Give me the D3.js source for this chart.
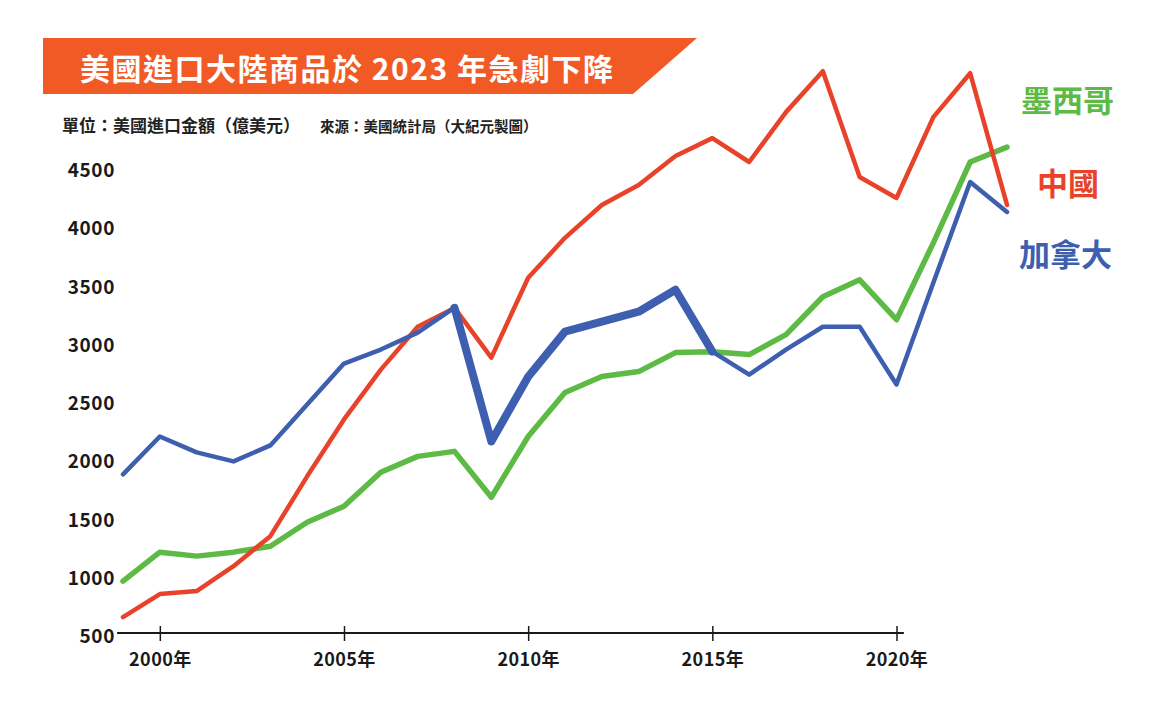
<!DOCTYPE html>
<html>
<head>
<meta charset="utf-8">
<script src="https://cdn.jsdelivr.net/npm/d3@7"></script>
<style>
  body { margin: 0; background: #fff; }
  svg { display: block; }
  text { font-family: "Noto Sans CJK TC", "Noto Sans", sans-serif; }
  .num { font-family: "Open Sans", "Noto Sans CJK TC", sans-serif; }
</style>
</head>
<body>
<svg width="1173" height="718"></svg>
<script>
// data (億美元)
var years = [1999, 2000, 2001, 2002, 2003, 2004, 2005, 2006, 2007, 2008, 2009, 2010, 2011,
  2012, 2013, 2014, 2015, 2016, 2017, 2018, 2019, 2020, 2021, 2022, 2023];
var china = [637, 834, 860, 1074, 1331, 1845, 2333, 2761, 3129, 3290, 2864, 3549, 3892,
  4174, 4346, 4594, 4748, 4543, 4971, 5322, 4414, 4234, 4928, 5305, 4174];
var mexico = [945, 1194, 1160, 1194, 1245, 1451, 1588, 1879, 2016, 2059, 1665, 2187, 2564,
  2701, 2744, 2907, 2915, 2890, 3061, 3386, 3532, 3189, 3849, 4543, 4671];
var canada = [1862, 2187, 2050, 1973, 2110, 2461, 2813, 2933, 3078, 3292, 2144, 2700, 3087,
  3172, 3258, 3446, 2915, 2718, 2932, 3129, 3129, 2633, 3506, 4371, 4114];
var yTicks = [500, 1000, 1500, 2000, 2500, 3000, 3500, 4000, 4500];
var xTicks = [2000, 2005, 2010, 2015, 2020];
var boldFrom = 2008, boldTo = 2015; // canada line is drawn thicker here

var title = "美國進口大陸商品於 2023 年急劇下降";
var unitText = "單位：美國進口金額（億美元）";
var sourceText = "來源：美國統計局（大紀元製圖）";

var colors = { china: "#e8432a", mexico: "#5dba45", canada: "#3e5fb0" };

var svg = d3.select("svg");

// scales
var x = d3.scaleLinear().domain([1999, 2023]).range([123, 1007]);
var y = d3.scaleLinear().domain([500, 4500]).range([633, 167]);

// title banner
svg.append("path")
  .attr("d", "M43,38 L697,38 L633,94 L43,94 Z")
  .attr("fill", "#f15a24");
svg.append("text")
  .attr("x", 80).attr("y", 80)
  .attr("fill", "#fff")
  .attr("font-size", 30)
  .attr("font-weight", 700)
  .attr("letter-spacing", 1.5)
  .text(title);

svg.append("text")
  .attr("x", 62).attr("y", 132)
  .attr("font-size", 17).attr("font-weight", 700).attr("fill", "#222")
  .text(unitText);
svg.append("text")
  .attr("x", 320).attr("y", 132)
  .attr("font-size", 14.5).attr("font-weight", 700).attr("fill", "#222")
  .text(sourceText);

// y axis labels only
var yAxis = svg.append("g")
  .attr("class", "num")
  .attr("transform", "translate(115,0)")
  .call(d3.axisLeft(y).tickValues(yTicks).tickSize(0).tickPadding(0).tickFormat(d3.format("d")));
yAxis.select(".domain").remove();
yAxis.selectAll("text")
  .attr("dy", "0.5em")
  .attr("font-size", 19).attr("font-weight", 700).attr("fill", "#1a1a1a")
  .attr("letter-spacing", 0.6)
  .attr("font-family", "'Open Sans', sans-serif");

// x axis
var xAxis = svg.append("g")
  .attr("transform", "translate(0," + y(500) + ")")
  .call(d3.axisBottom(x).tickValues(xTicks).tickSize(8).tickPadding(12)
    .tickFormat(function(d) { return d + "年"; }));
xAxis.select(".domain").remove();
xAxis.append("line")
  .attr("x1", x(1998.84)).attr("x2", x(2020.2))
  .attr("stroke", "#1a1a1a").attr("stroke-width", 2);
xAxis.selectAll(".tick line").attr("y1", -7).attr("stroke", "#1a1a1a").attr("stroke-width", 1.5);
xAxis.selectAll(".tick text")
  .attr("font-size", 18).attr("font-weight", 700).attr("fill", "#1a1a1a")
  .attr("letter-spacing", 0.4)
  .attr("font-family", "'Open Sans', 'Noto Sans CJK TC', sans-serif");

// lines
function series(vals) {
  return years.map(function(yr, i) { return { year: yr, value: vals[i] }; });
}
var line = d3.line()
  .x(function(d) { return x(d.year); })
  .y(function(d) { return y(d.value); });

function drawLine(data, color, w) {
  svg.append("path")
    .datum(data)
    .attr("d", line)
    .attr("fill", "none")
    .attr("stroke", color)
    .attr("stroke-width", w)
    .attr("stroke-linejoin", "round")
    .attr("stroke-linecap", "round");
}

drawLine(series(mexico), colors.mexico, 5.5);
drawLine(series(china), colors.china, 4.5);
drawLine(series(canada), colors.canada, 4.5);
drawLine(series(canada).filter(function(d) { return d.year >= boldFrom && d.year <= boldTo; }),
  colors.canada, 8);

// series labels
var labels = [
  { name: "墨西哥", color: colors.mexico, x: 1021, y: 112 },
  { name: "中國", color: colors.china, x: 1037, y: 195 },
  { name: "加拿大", color: colors.canada, x: 1019, y: 266 }
];
svg.selectAll(".lbl")
  .data(labels)
  .enter()
  .append("text")
  .attr("class", "lbl")
  .attr("x", function(d) { return d.x; })
  .attr("y", function(d) { return d.y; })
  .attr("font-size", 31)
  .attr("font-weight", 700)
  .attr("fill", function(d) { return d.color; })
  .text(function(d) { return d.name; });
</script>
</body>
</html>
